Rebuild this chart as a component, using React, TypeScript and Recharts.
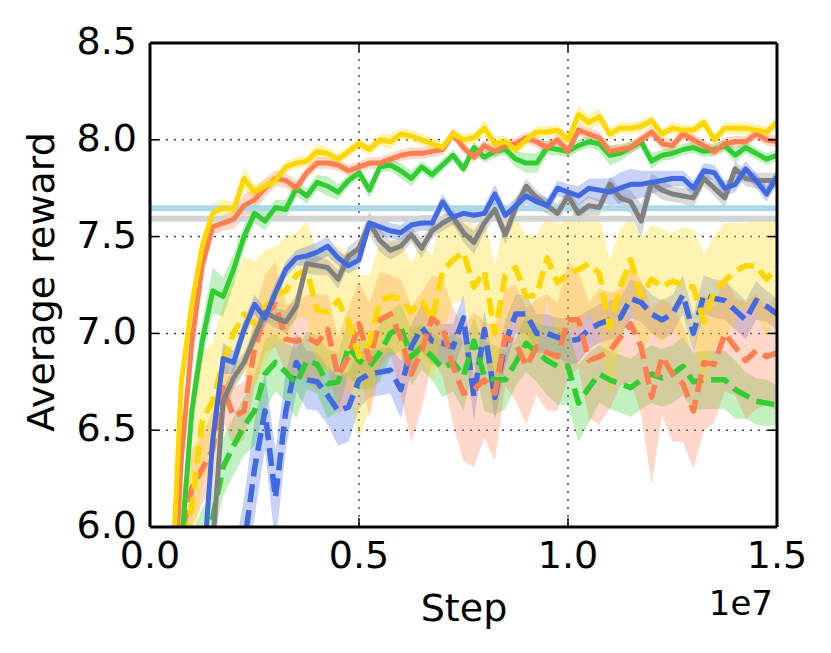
import React from "react";
import {
  Area,
  CartesianGrid,
  ComposedChart,
  Line,
  ReferenceLine,
  XAxis,
  YAxis,
} from "recharts";

// training steps, in millions
const stepsM = [
  0.25, 0.5, 0.75, 1.0, 1.25, 1.5, 1.75, 2.0, 2.25, 2.5,
  2.75, 3.0, 3.25, 3.5, 3.75, 4.0, 4.25, 4.5, 4.75, 5.0,
  5.25, 5.5, 5.75, 6.0, 6.25, 6.5, 6.75, 7.0, 7.25, 7.5,
  7.75, 8.0, 8.25, 8.5, 8.75, 9.0, 9.25, 9.5, 9.75, 10.0,
  10.25, 10.5, 10.75, 11.0, 11.25, 11.5, 11.75, 12.0, 12.25, 12.5,
  12.75, 13.0, 13.25, 13.5, 13.75, 14.0, 14.25, 14.5, 14.75, 15.0,
];

const yellowSolid = [
  4.8, 5.6, 6.75, 7.15, 7.45, 7.62, 7.65, 7.64, 7.8, 7.73,
  7.76, 7.79, 7.86, 7.88, 7.89, 7.94, 7.93, 7.9, 7.94, 7.98,
  7.95, 8.0, 7.99, 8.03, 8.02, 8.0, 7.98, 7.96, 8.03, 8.0,
  8.01, 8.06, 7.98, 7.99, 7.95, 8.0, 8.04, 8.04, 8.05, 8.0,
  8.13, 8.09, 8.12, 8.03, 8.06, 8.06, 8.07, 8.1, 8.03, 8.06,
  8.05, 8.05, 8.09, 8.0, 8.06, 8.06, 8.06, 8.05, 8.04, 8.09,
];
const yellowSolidSpread = [
  0.1, 0.1, 0.08, 0.06, 0.05, 0.05, 0.04, 0.04, 0.06, 0.04,
  0.03, 0.03, 0.03, 0.03, 0.03, 0.04, 0.03, 0.03, 0.03, 0.03,
  0.03, 0.03, 0.04, 0.03, 0.03, 0.03, 0.03, 0.03, 0.03, 0.03,
  0.03, 0.04, 0.04, 0.03, 0.03, 0.03, 0.03, 0.03, 0.03, 0.03,
  0.05, 0.04, 0.04, 0.03, 0.03, 0.03, 0.03, 0.03, 0.03, 0.03,
  0.03, 0.03, 0.03, 0.03, 0.03, 0.03, 0.03, 0.03, 0.03, 0.03,
];

const coralSolid = [
  4.6, 5.4, 6.35, 6.95, 7.35, 7.55, 7.57, 7.59, 7.66, 7.69,
  7.75, 7.8, 7.79, 7.75, 7.83, 7.88, 7.88, 7.87, 7.84, 7.86,
  7.88, 7.88, 7.9, 7.92, 7.93, 7.93, 7.94, 7.95, 8.03, 7.96,
  7.91, 7.97, 7.94, 7.97, 7.98, 8.01, 7.99, 7.96, 8.0, 7.94,
  8.05, 8.03, 8.01, 7.94, 7.95, 7.96, 8.0, 8.04, 7.98, 7.97,
  8.03, 8.0, 7.97, 7.94, 7.98, 7.99, 7.99, 8.03, 8.0, 7.99,
];
const coralSolidSpread = [
  0.1, 0.1, 0.08, 0.06, 0.05, 0.04, 0.04, 0.05, 0.06, 0.06,
  0.05, 0.04, 0.04, 0.04, 0.03, 0.03, 0.03, 0.03, 0.03, 0.03,
  0.03, 0.03, 0.03, 0.03, 0.03, 0.03, 0.03, 0.03, 0.03, 0.03,
  0.03, 0.03, 0.03, 0.03, 0.03, 0.03, 0.03, 0.03, 0.03, 0.03,
  0.03, 0.03, 0.03, 0.03, 0.03, 0.03, 0.03, 0.03, 0.03, 0.03,
  0.03, 0.03, 0.03, 0.03, 0.03, 0.03, 0.03, 0.03, 0.03, 0.03,
];

const greenSolid = [
  4.8, 5.3, 5.9, 6.6, 6.96, 7.22, 7.19, 7.33, 7.5, 7.62,
  7.58, 7.65, 7.64, 7.75, 7.71, 7.78, 7.76, 7.73, 7.79, 7.83,
  7.74, 7.86, 7.87, 7.84, 7.8, 7.86, 7.82, 7.87, 7.92, 7.85,
  7.96, 7.91, 7.94, 7.95, 7.9, 7.88, 7.88, 7.96, 7.95, 7.94,
  7.97, 7.99, 7.98, 7.92, 7.93, 7.96, 7.99, 7.89, 7.92, 7.93,
  7.95, 7.96, 7.94, 7.95, 7.97, 7.92, 7.96, 7.93, 7.9, 7.92,
];
const greenSolidSpread = [
  0.12, 0.12, 0.12, 0.12, 0.1, 0.12, 0.1, 0.08, 0.06, 0.05,
  0.05, 0.04, 0.05, 0.04, 0.04, 0.04, 0.05, 0.04, 0.03, 0.03,
  0.04, 0.03, 0.03, 0.04, 0.04, 0.03, 0.03, 0.03, 0.03, 0.03,
  0.03, 0.03, 0.03, 0.03, 0.04, 0.05, 0.05, 0.04, 0.03, 0.03,
  0.03, 0.03, 0.04, 0.05, 0.04, 0.03, 0.03, 0.04, 0.03, 0.03,
  0.03, 0.03, 0.03, 0.03, 0.03, 0.04, 0.03, 0.03, 0.03, 0.03,
];

const blueSolid = [
  4.2, 4.6, 4.9, 5.2, 5.7, 6.45, 6.87, 6.85, 7.02, 7.15,
  7.08, 7.21, 7.33, 7.39, 7.4, 7.42, 7.45, 7.39, 7.35, 7.38,
  7.57, 7.55, 7.53, 7.52, 7.56, 7.57, 7.57, 7.68, 7.6, 7.62,
  7.61, 7.62, 7.72, 7.61, 7.66, 7.71, 7.68, 7.66, 7.75, 7.73,
  7.71, 7.75, 7.74, 7.73, 7.75, 7.77, 7.77, 7.78, 7.79, 7.8,
  7.8, 7.75, 7.84, 7.83, 7.75, 7.77, 7.85, 7.79, 7.72, 7.81,
];
const blueSolidSpread = [
  0.1, 0.1, 0.1, 0.1, 0.1, 0.1, 0.08, 0.06, 0.05, 0.05,
  0.05, 0.05, 0.04, 0.04, 0.05, 0.05, 0.05, 0.04, 0.04, 0.04,
  0.04, 0.04, 0.04, 0.04, 0.04, 0.04, 0.04, 0.04, 0.04, 0.04,
  0.04, 0.04, 0.05, 0.04, 0.04, 0.04, 0.04, 0.04, 0.04, 0.04,
  0.05, 0.05, 0.06, 0.07, 0.08, 0.08, 0.07, 0.06, 0.05, 0.04,
  0.04, 0.04, 0.04, 0.04, 0.04, 0.04, 0.04, 0.04, 0.04, 0.04,
];

const graySolid = [
  4.0, 4.4, 4.8, 5.1, 5.4, 5.9, 6.65, 6.77, 6.85, 6.98,
  7.11, 7.08, 7.06, 7.14, 7.36, 7.35, 7.34, 7.28, 7.4, 7.44,
  7.57, 7.48, 7.43, 7.45, 7.51, 7.44, 7.53, 7.57, 7.6, 7.52,
  7.47, 7.57, 7.64, 7.51, 7.65, 7.76, 7.7, 7.66, 7.62, 7.71,
  7.62, 7.66, 7.65, 7.77, 7.7, 7.68, 7.58, 7.78, 7.74, 7.72,
  7.71, 7.7, 7.8, 7.75, 7.7, 7.85, 7.8, 7.79, 7.79, 7.79,
];
const graySolidSpread = [
  0.08, 0.08, 0.08, 0.08, 0.08, 0.08, 0.06, 0.06, 0.05, 0.05,
  0.05, 0.05, 0.06, 0.06, 0.05, 0.05, 0.04, 0.05, 0.05, 0.05,
  0.06, 0.06, 0.05, 0.04, 0.04, 0.05, 0.04, 0.04, 0.04, 0.05,
  0.06, 0.05, 0.04, 0.05, 0.05, 0.04, 0.04, 0.04, 0.05, 0.04,
  0.05, 0.05, 0.04, 0.04, 0.05, 0.06, 0.09, 0.05, 0.05, 0.04,
  0.04, 0.05, 0.04, 0.04, 0.05, 0.04, 0.04, 0.04, 0.04, 0.04,
];

const yellowDashed = [
  5.0, 5.5, 5.9, 6.1, 6.55, 6.65, 6.85, 7.0, 7.1, 7.05,
  7.13, 7.2, 7.22, 7.3, 7.33, 7.12, 7.11, 7.17, 7.06, 6.88,
  6.95, 7.17, 7.19, 7.18, 7.11, 7.17, 7.07, 7.32, 7.38, 7.42,
  7.24, 7.32, 7.0, 7.3, 7.34, 7.19, 7.2, 7.39, 7.26, 7.31,
  7.33, 7.36, 7.31, 7.03, 7.24, 7.38, 7.19, 7.28, 7.24, 7.27,
  7.25, 7.24, 7.06, 7.22, 7.27, 7.32, 7.35, 7.35, 7.28, 7.34,
];
const yellowDashedSpread = [
  0.3, 0.3, 0.3, 0.3, 0.35, 0.3, 0.3, 0.28, 0.3, 0.32,
  0.3, 0.25, 0.28, 0.22, 0.25, 0.3, 0.32, 0.28, 0.35, 0.42,
  0.35, 0.3, 0.28, 0.3, 0.25, 0.3, 0.33, 0.3, 0.22, 0.25,
  0.3, 0.28, 0.35, 0.3, 0.25, 0.32, 0.3, 0.22, 0.3, 0.28,
  0.32, 0.25, 0.3, 0.35, 0.3, 0.22, 0.3, 0.28, 0.3, 0.25,
  0.3, 0.3, 0.35, 0.28, 0.3, 0.25, 0.22, 0.25, 0.3, 0.25,
];

const coralDashed = [
  5.2, 5.7, 5.95, 6.2, 6.3, 6.4, 6.72, 6.57, 6.6, 6.92,
  7.1, 7.15, 6.97, 6.96, 6.98, 6.95, 7.02, 6.78, 6.88, 7.05,
  6.86, 7.07, 7.1, 6.98, 6.79, 6.91, 7.08, 7.03, 6.83, 6.69,
  6.71, 6.76, 6.69, 6.98, 6.95, 6.83, 6.93, 6.9, 6.88, 7.07,
  7.07, 6.86, 6.88, 6.91, 6.98, 7.05, 6.93, 6.67, 6.88, 6.79,
  6.74, 6.6, 6.85, 6.84, 7.0, 6.93, 6.86, 6.91, 6.88, 6.9,
];
const coralDashedSpread = [
  0.2, 0.2, 0.2, 0.2, 0.18, 0.2, 0.18, 0.15, 0.15, 0.2,
  0.2, 0.22, 0.18, 0.2, 0.22, 0.25, 0.18, 0.2, 0.25, 0.22,
  0.3, 0.25, 0.2, 0.3, 0.35, 0.3, 0.22, 0.25, 0.3, 0.35,
  0.4, 0.3, 0.35, 0.25, 0.3, 0.3, 0.25, 0.3, 0.28, 0.3,
  0.25, 0.3, 0.35, 0.3, 0.25, 0.3, 0.35, 0.45, 0.3, 0.35,
  0.3, 0.3, 0.35, 0.3, 0.3, 0.25, 0.3, 0.3, 0.25, 0.3,
];

const greenDashed = [
  5.0, 5.4, 5.6, 5.8, 5.95, 6.05, 6.31, 6.42, 6.52, 6.6,
  6.79, 6.85, 6.8, 6.74, 6.86, 6.84, 6.74, 6.75, 6.93, 6.86,
  6.83, 6.9, 7.0, 7.03, 6.88, 6.93, 6.88, 6.82, 6.85, 6.78,
  6.96, 6.78, 6.76, 6.76, 6.85, 6.95, 6.9, 6.86, 6.83, 6.83,
  6.64, 6.72, 6.79, 6.76, 6.74, 6.72, 6.76, 6.79, 6.77, 6.79,
  6.83, 6.75, 6.76, 6.76, 6.76, 6.71, 6.68, 6.65, 6.64, 6.63,
];
const greenDashedSpread = [
  0.15, 0.15, 0.15, 0.15, 0.15, 0.15, 0.15, 0.15, 0.15, 0.18,
  0.18, 0.15, 0.15, 0.18, 0.15, 0.15, 0.18, 0.15, 0.15, 0.15,
  0.12, 0.15, 0.12, 0.12, 0.15, 0.12, 0.12, 0.15, 0.15, 0.18,
  0.12, 0.18, 0.18, 0.15, 0.12, 0.15, 0.15, 0.18, 0.2, 0.2,
  0.2, 0.18, 0.15, 0.15, 0.15, 0.15, 0.15, 0.15, 0.15, 0.15,
  0.15, 0.15, 0.15, 0.15, 0.15, 0.15, 0.12, 0.12, 0.12, 0.1,
];

const blueDashed = [
  4.6, 4.8, 5.0, 5.1, 5.2, 5.3, 5.4, 5.6, 5.9, 6.3,
  6.6, 6.15, 6.6, 6.85, 6.76, 6.75, 6.68, 6.6, 6.62, 6.76,
  6.79, 6.8, 6.81, 6.71, 6.93, 7.03, 6.96, 6.95, 6.93, 7.08,
  6.67, 7.02, 6.67, 6.95, 7.1, 7.1, 7.0, 7.0, 6.98, 6.96,
  6.97, 7.02, 7.05, 7.07, 7.08, 7.18, 7.16, 7.1, 7.07, 7.1,
  7.2, 7.0, 7.2, 7.18, 7.17, 7.12, 7.07, 7.17, 7.14, 7.1,
];
const blueDashedSpread = [
  0.25, 0.25, 0.25, 0.25, 0.25, 0.25, 0.25, 0.25, 0.25, 0.25,
  0.2, 0.25, 0.2, 0.15, 0.15, 0.15, 0.15, 0.18, 0.18, 0.15,
  0.12, 0.12, 0.12, 0.15, 0.12, 0.12, 0.12, 0.1, 0.12, 0.12,
  0.12, 0.1, 0.12, 0.12, 0.1, 0.1, 0.1, 0.1, 0.1, 0.12,
  0.12, 0.1, 0.1, 0.1, 0.1, 0.1, 0.1, 0.1, 0.1, 0.1,
  0.1, 0.1, 0.1, 0.1, 0.1, 0.1, 0.1, 0.1, 0.08, 0.08,
];

// flat baselines
const baselineBlue = 7.647;
const baselineGray = 7.592;

const xTicks = [0, 5e6, 10e6, 15e6];
const yTicks = [6.0, 6.5, 7.0, 7.5, 8.0, 8.5];
const X_DOMAIN: [number, number] = [0, 15e6];
const Y_DOMAIN: [number, number] = [6, 8.5];

const series = [
  { key: "blueDashed", values: blueDashed, spread: blueDashedSpread, color: "#4169E1", dashed: true },
  { key: "greenDashed", values: greenDashed, spread: greenDashedSpread, color: "#32CD32", dashed: true },
  { key: "coralDashed", values: coralDashed, spread: coralDashedSpread, color: "#FF7F50", dashed: true },
  { key: "yellowDashed", values: yellowDashed, spread: yellowDashedSpread, color: "#FFD700", dashed: true },
  { key: "graySolid", values: graySolid, spread: graySolidSpread, color: "#808080", dashed: false },
  { key: "blueSolid", values: blueSolid, spread: blueSolidSpread, color: "#4169E1", dashed: false },
  { key: "greenSolid", values: greenSolid, spread: greenSolidSpread, color: "#32CD32", dashed: false },
  { key: "coralSolid", values: coralSolid, spread: coralSolidSpread, color: "#FF7F50", dashed: false },
  { key: "yellowSolid", values: yellowSolid, spread: yellowSolidSpread, color: "#FFD700", dashed: false },
];

const rows = stepsM.map((s, i) => {
  const row: Record<string, number | number[]> = { step: s * 1e6 };
  series.forEach((d) => {
    row[d.key] = d.values[i];
    row[d.key + "Band"] = [d.values[i] - d.spread[i], d.values[i] + d.spread[i]];
  });
  return row;
});

const FONT = "DejaVu Sans";
const TICK_LEN = 9;
const X_GAP = 23;
const Y_GAP = 22;

// tick marks point inwards (matplotlib classic); drawn next to the label position
function BottomTick(props: any) {
  const { x, y, payload } = props;
  return (
    <g>
      <line x1={x} x2={x} y1={y - X_GAP} y2={y - X_GAP + TICK_LEN} stroke="#000" strokeWidth={1.5} />
      <text x={x} y={y + 27} textAnchor="middle" fontSize={38} fontFamily={FONT} fill="#000">
        {(payload.value / 1e7).toFixed(1)}
      </text>
    </g>
  );
}

function LeftTick(props: any) {
  const { x, y, payload } = props;
  return (
    <g>
      <line x1={x + Y_GAP} x2={x + Y_GAP - TICK_LEN} y1={y} y2={y} stroke="#000" strokeWidth={1.5} />
      <text x={x} y={y + 11} textAnchor="end" fontSize={38} fontFamily={FONT} fill="#000">
        {payload.value.toFixed(1)}
      </text>
    </g>
  );
}

function TopTick(props: any) {
  const { x, y } = props;
  return <line x1={x} x2={x} y1={y} y2={y - TICK_LEN} stroke="#000" strokeWidth={1.5} />;
}

function RightTick(props: any) {
  const { x, y } = props;
  return <line x1={x} x2={x + TICK_LEN} y1={y} y2={y} stroke="#000" strokeWidth={1.5} />;
}

export default function App() {
  return (
    <div style={{ position: "absolute", left: 0, top: 0, width: 831, height: 653, background: "#fff" }}>
      <ComposedChart
        width={831}
        height={653}
        data={rows}
        margin={{ top: 42, right: 53, left: 0, bottom: 0 }}
      >
        <CartesianGrid stroke="#444" strokeWidth={1.5} strokeDasharray="2 6" />
        <XAxis
          dataKey="step"
          type="number"
          domain={X_DOMAIN}
          ticks={xTicks}
          allowDataOverflow
          height={126}
          tickSize={-TICK_LEN}
          tickMargin={X_GAP}
          axisLine={false}
          tickLine={false}
          tick={<BottomTick />}
        />
        <XAxis
          xAxisId="top"
          orientation="top"
          dataKey="step"
          type="number"
          domain={X_DOMAIN}
          ticks={xTicks}
          allowDataOverflow
          height={1}
          tickSize={-TICK_LEN}
          tickMargin={0}
          axisLine={false}
          tickLine={false}
          tick={<TopTick />}
        />
        <YAxis
          type="number"
          domain={Y_DOMAIN}
          ticks={yTicks}
          allowDataOverflow
          width={150}
          tickSize={-TICK_LEN}
          tickMargin={Y_GAP}
          axisLine={false}
          tickLine={false}
          tick={<LeftTick />}
        />
        <YAxis
          yAxisId="right"
          orientation="right"
          type="number"
          domain={Y_DOMAIN}
          ticks={yTicks}
          allowDataOverflow
          width={1}
          tickSize={-TICK_LEN}
          tickMargin={0}
          axisLine={false}
          tickLine={false}
          tick={<RightTick />}
        />
        {series.map((d) => (
          <Area
            key={d.key + "Band"}
            dataKey={d.key + "Band"}
            type="linear"
            stroke="none"
            fill={d.color}
            fillOpacity={0.3}
            activeDot={false}
            isAnimationActive={false}
          />
        ))}
        <ReferenceLine y={baselineBlue} stroke="#ADD8E6" strokeWidth={6} />
        <ReferenceLine y={baselineGray} stroke="#D3D3D3" strokeWidth={6} />
        {series.map((d) => (
          <Line
            key={d.key}
            dataKey={d.key}
            type="linear"
            stroke={d.color}
            strokeWidth={d.dashed ? 5.5 : 5}
            strokeDasharray={d.dashed ? "18 8" : undefined}
            strokeLinejoin="round"
            dot={false}
            activeDot={false}
            isAnimationActive={false}
          />
        ))}
        {/* plot frame along the domain edges */}
        <ReferenceLine x={X_DOMAIN[0]} stroke="#000" strokeWidth={3} />
        <ReferenceLine x={X_DOMAIN[1]} stroke="#000" strokeWidth={3} />
        <ReferenceLine y={Y_DOMAIN[0]} stroke="#000" strokeWidth={3} />
        <ReferenceLine y={Y_DOMAIN[1]} stroke="#000" strokeWidth={3} />
      </ComposedChart>
      <svg
        width={831}
        height={653}
        style={{ position: "absolute", left: 0, top: 0, pointerEvents: "none" }}
      >
        <text x={464} y={621} textAnchor="middle" fontSize={38} fontFamily={FONT} fill="#000">
          Step
        </text>
        <text x={773} y={615} textAnchor="end" fontSize={34} fontFamily={FONT} fill="#000">
          1e7
        </text>
        <text
          x={0}
          y={0}
          transform="translate(54 282) rotate(-90)"
          textAnchor="middle"
          fontSize={38}
          fontFamily={FONT}
          fill="#000"
        >
          Average reward
        </text>
      </svg>
    </div>
  );
}
